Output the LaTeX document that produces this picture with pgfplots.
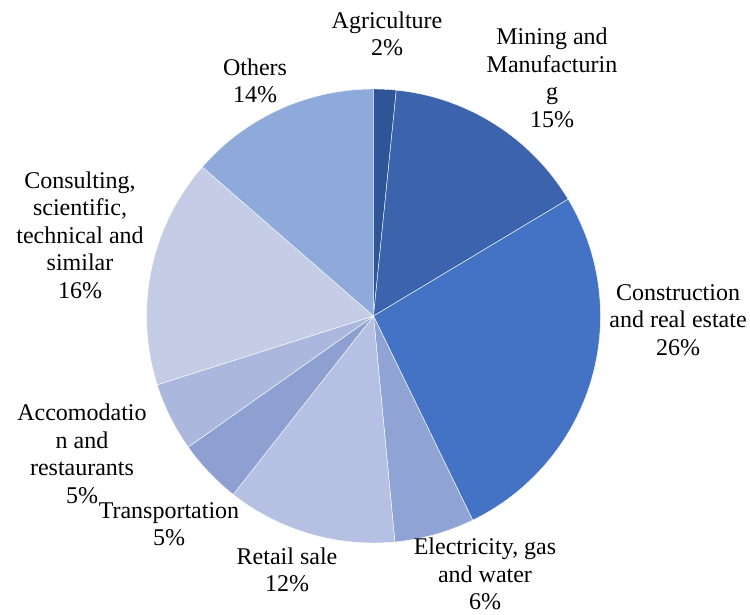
\documentclass[border=0pt]{standalone}
\usepackage{pgfplots}
\pgfplotsset{compat=1.18}
\usepackage{fontspec}
\setmainfont{Liberation Serif}

\definecolor{cagri}{HTML}{2F5597}
\definecolor{cmining}{HTML}{3B64AD}
\definecolor{cconstr}{HTML}{4472C4}
\definecolor{celec}{HTML}{8FA3D4}
\definecolor{cretail}{HTML}{B6C0E3}
\definecolor{ctransp}{HTML}{8E9FD2}
\definecolor{caccom}{HTML}{ABB7DD}
\definecolor{cconsult}{HTML}{C5CCE6}
\definecolor{cothers}{HTML}{8EAADB}

\tikzset{lbl/.style={font=\fontsize{24}{27.5}\selectfont, align=center, inner sep=0pt}}

\begin{document}
\begin{tikzpicture}
\begin{axis}[
    scale only axis,
    width=750pt, height=614pt,
    xmin=0, xmax=750, ymin=0, ymax=614,
    hide axis, clip=false,
  ]
  \path (axis cs:0,0) rectangle (axis cs:750,614);
  % shares in percent, clockwise from 12 o'clock
  \gdef\cum{0}
  \foreach \v/\c in {1.6/cagri, 14.8/cmining, 26.4/cconstr, 5.7/celec,
                     12.1/cretail, 4.6/ctransp, 4.9/caccom, 16.3/cconsult, 13.6/cothers}{
    \pgfmathsetmacro\a{90-3.6*\cum}
    \pgfmathsetmacro\b{90-3.6*(\cum+\v)}
    \edef\temp{\noexpand\fill[\c, draw=white, line width=0.4pt]
      (axis cs:373.5,298) -- ++(\a:227pt) arc[start angle=\a, end angle=\b, radius=227pt] -- cycle;}
    \temp
    \pgfmathsetmacro\n{\cum+\v}
    \xdef\cum{\n}
  }
  \node[lbl] at (axis cs:387,580) {Agriculture\\2\%};
  \node[lbl] at (axis cs:552,536) {Mining and\\Manufacturin\\g\\15\%};
  \node[lbl] at (axis cs:678,294) {Construction\\and real estate\\26\%};
  \node[lbl] at (axis cs:485,40) {Electricity, gas\\and water\\6\%};
  \node[lbl] at (axis cs:287,44) {Retail sale\\12\%};
  \node[lbl] at (axis cs:169,90) {Transportation\\5\%};
  \node[lbl] at (axis cs:82,160) {Accomodatio\\n and\\restaurants\\5\%};
  \node[lbl] at (axis cs:80,379) {Consulting,\\scientific,\\technical and\\similar\\16\%};
  \node[lbl] at (axis cs:255,533) {Others\\14\%};
\end{axis}
\end{tikzpicture}
\end{document}
